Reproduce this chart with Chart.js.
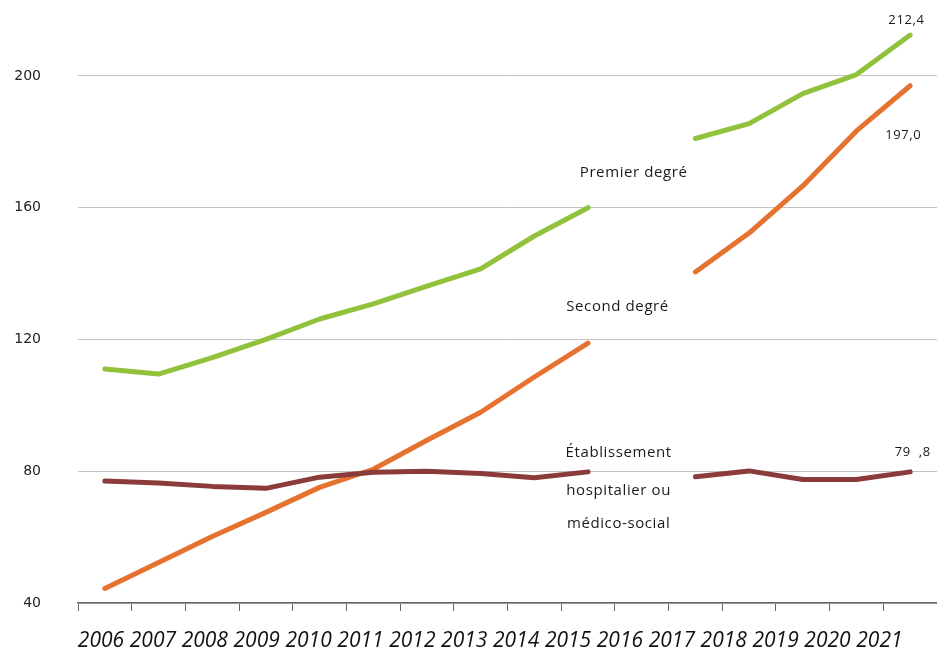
<!DOCTYPE html>
<html lang="fr">
<head>
<meta charset="utf-8">
<script src="https://cdn.jsdelivr.net/npm/chart.js@4/dist/chart.umd.min.js"></script>
<style>
  html, body { margin: 0; padding: 0; background: #fff; }
  #wrap { width: 937px; height: 651px; }
</style>
</head>
<body>
<div id="wrap"><canvas id="chart"></canvas></div>
<script>
// Années (2016 sans donnée)
const years = ['2006', '2007', '2008', '2009', '2010', '2011', '2012', '2013',
               '2014', '2015', '2016', '2017', '2018', '2019', '2020', '2021'];

// Séries
const premierDegre = [111, 109.5, 114.5, 120, 126.2, 130.8, 136.2, 141.4,
                      151.4, 160, null, 181, 185.5, 194.6, 200.4, 212.4];
const secondDegre = [44.4, 52.3, 60.2, 67.5, 75.1, 80.6, 89.4, 97.9,
                     108.6, 118.9, null, 140.5, 152.3, 166.6, 183.3, 197.0];
const etablissement = [77, 76.4, 75.4, 74.8, 78.2, 79.7, 80, 79.3,
                       78, 79.8, null, 78.3, 80.1, 77.5, 77.5, 79.8];

// Graduations de l'axe vertical
const yTicks = [40, 80, 120, 160, 200];

// Étiquettes de texte dans le graphique (position en index d'année / valeur)
const notes = [
    { text: 'Premier degré', x: 9.85, y: 170.5, size: 15 },
    { text: 'Second degré', x: 9.55, y: 129.8, size: 15 },
    { text: 'Établissement', x: 9.57, y: 85.5, size: 15 },
    { text: 'hospitalier ou', x: 9.57, y: 74.2, size: 15 },
    { text: 'médico-social', x: 9.57, y: 64.2, size: 15 },
    { text: '212,4', x: 14.93, y: 217, size: 13 },
    { text: '197,0', x: 14.87, y: 182, size: 13 },
    { text: '79  ,8', x: 15.05, y: 85.8, size: 13 }
];

const notesPlugin = {
    id: 'notes',
    afterDatasetsDraw(chart) {
        const c = chart.ctx;
        const xs = chart.scales.x, ys = chart.scales.y;
        c.save();
        c.fillStyle = '#1a1a1a';
        c.textAlign = 'center';
        c.textBaseline = 'middle';
        c.letterSpacing = '0.6px';
        notes.forEach(n => {
            c.font = n.size + 'px "Open Sans"';
            c.fillText(n.text, xs.getPixelForValue(n.x), ys.getPixelForValue(n.y));
        });
        c.restore();
    }
};

function serie(label, data, color) {
    return {
        label: label,
        data: data,
        borderColor: color,
        backgroundColor: color,
        borderWidth: 5,
        borderCapStyle: 'round',
        borderJoinStyle: 'round',
        pointRadius: 0,
        tension: 0,
        spanGaps: false,
        xAxisID: 'x',
        yAxisID: 'y'
    };
}

// pas de marge automatique autour des axes
function noPadding(scale) {
    scale.paddingTop = 0;
    scale.paddingBottom = 0;
    scale.paddingLeft = 0;
    scale.paddingRight = 0;
}

new Chart(document.getElementById('chart'), {
    type: 'line',
    data: {
        labels: years,
        datasets: [
            serie('Établissement hospitalier ou médico-social', etablissement, '#8b3c3a'),
            serie('Second degré', secondDegre, '#e5732f'),
            serie('Premier degré', premierDegre, '#92c13c')
        ]
    },
    options: {
        responsive: true,
        maintainAspectRatio: false,
        animation: false,
        layout: { padding: { top: 10, left: 0, right: 0, bottom: 0 } },
        plugins: {
            legend: { display: false },
            tooltip: { enabled: false }
        },
        scales: {
            x: {
                type: 'category',
                position: 'bottom',
                weight: 0,
                offset: true,
                grid: {
                    offset: true,
                    drawOnChartArea: false,
                    drawTicks: true,
                    tickLength: 8,
                    color: '#666'
                },
                border: { display: true, color: '#666', width: 1.5 },
                ticks: { display: false },
                afterFit(scale) { scale.height = 8; noPadding(scale); }
            },
            // axe des libellés d'années (légèrement resserré comme sur l'original)
            xl: {
                type: 'linear',
                position: 'bottom',
                weight: 1,
                min: -0.443,
                max: 16.11,
                grid: { display: false },
                border: { display: false },
                ticks: {
                    stepSize: 1,
                    includeBounds: false,
                    autoSkip: false,
                    maxRotation: 0,
                    padding: 9,
                    color: '#111',
                    font: { family: '"Open Sans"', size: 21, style: 'italic' },
                    callback: v => years[v] !== undefined ? years[v] : ''
                },
                afterFit(scale) { scale.height = 40; noPadding(scale); }
            },
            y: {
                type: 'linear',
                min: 40,
                max: 220,
                border: { display: false },
                grid: { color: '#c4c4c4', lineWidth: 1, drawTicks: false },
                ticks: {
                    stepSize: 40,
                    padding: 37,
                    crossAlign: 'near',
                    color: '#222',
                    font: { family: '"DejaVu Sans"', size: 14 }
                },
                afterBuildTicks(scale) {
                    scale.ticks = yTicks.map(v => ({ value: v }));
                },
                afterFit(scale) { scale.width = 78; noPadding(scale); }
            }
        }
    },
    plugins: [notesPlugin]
});
</script>
</body>
</html>
